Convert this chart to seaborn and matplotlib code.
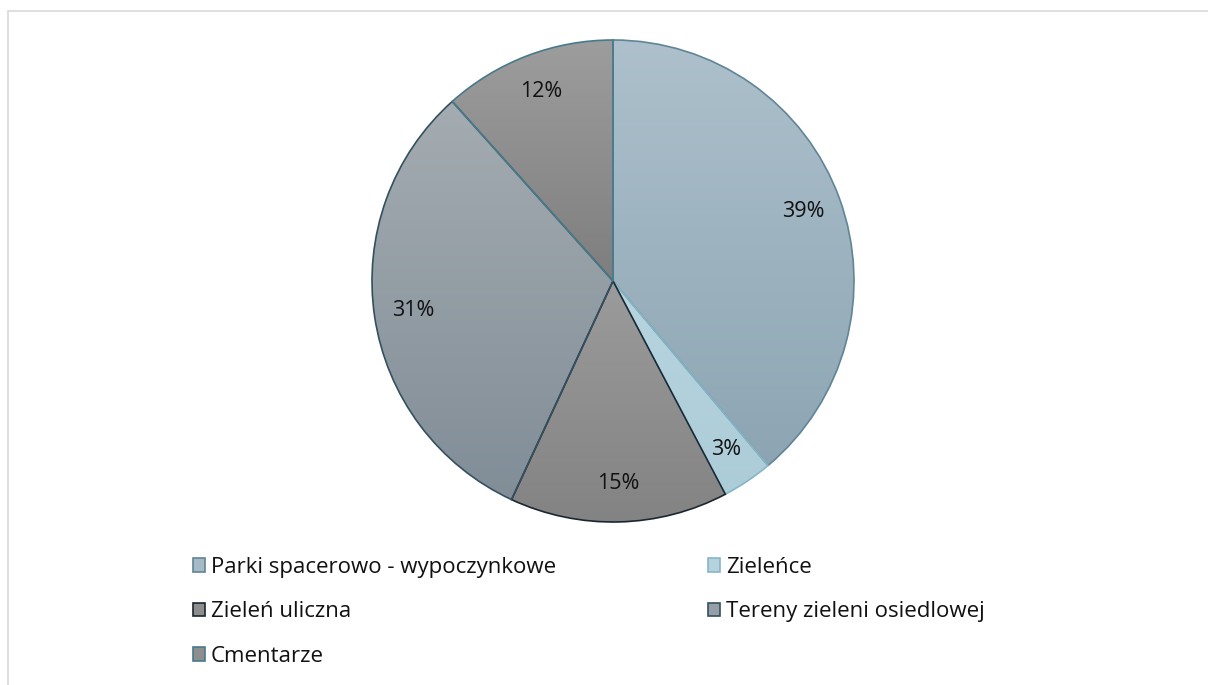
import numpy as np
import matplotlib
matplotlib.use("Agg")
import matplotlib.pyplot as plt
import seaborn as sns
from matplotlib.colors import LinearSegmentedColormap
from matplotlib.patches import Patch
from matplotlib.lines import Line2D

sns.set_theme(style="white")
plt.rcParams["font.family"] = ["Open Sans", "DejaVu Sans"]
plt.rcParams["text.color"] = "#111111"

# Area shares of urban green space categories
categories = ["Parki spacerowo - wypoczynkowe", "Zieleńce", "Zieleń uliczna",
              "Tereny zieleni osiedlowej", "Cmentarze"]
values = [38.8, 3.4, 14.6, 31.4, 11.6]

# top / bottom gradient colours and outline colour for each slice
grad_top = ["#adc0cc", "#b7d5df", "#9b9b9b", "#a4acb1", "#9d9d9d"]
grad_bottom = ["#8da5b3", "#acccd8", "#838383", "#818d97", "#7e7e7e"]
edge_cols = ["#5f8597", "#86b6c6", "#1c2630", "#34505f", "#477a8a"]

W, H = 1208, 685
fig = plt.figure(figsize=(W / 100, H / 100), dpi=100)
fig.patch.set_facecolor("white")

cx, cy, r_px = 613, 281, 241
half = 250
ax = fig.add_axes([(cx - half) / W, (H - cy - half) / H, 2 * half / W, 2 * half / H])
lim = half / r_px

wedges, texts, autotexts = ax.pie(
    values, startangle=90, counterclock=False, radius=1,
    autopct="%.0f%%", pctdistance=0.84,
    wedgeprops=dict(linewidth=1.2),
    textprops=dict(fontsize=15.5, color="#111111"),
)
ax.set_aspect("equal")
ax.axis("off")

grad = np.linspace(0, 1, 256).reshape(-1, 1)
for w, t, b, e in zip(wedges, grad_top, grad_bottom, edge_cols):
    verts = w.get_path().vertices
    x0, x1 = verts[:, 0].min(), verts[:, 0].max()
    y0, y1 = verts[:, 1].min(), verts[:, 1].max()
    cmap = LinearSegmentedColormap.from_list("g", [t, b])
    im = ax.imshow(grad, cmap=cmap, extent=(x0, x1, y0, y1), origin="upper",
                   aspect="auto", zorder=0.5, interpolation="bilinear")
    im.set_clip_path(w)
    w.set_facecolor("none")
    w.set_edgecolor(e)
    w.set_zorder(1)
for t in autotexts:
    t.set_zorder(3)
ax.set_xlim(-lim, lim)
ax.set_ylim(-lim, lim)

# Legend, filled row by row
face_cols = ["#a6b9c6", "#b5d3de", "#8d8d8d", "#949fa7", "#8e8e8e"]
handles = [Patch(facecolor=f, edgecolor=e, linewidth=1.2) for f, e in zip(face_cols, edge_cols)]
order = [0, 2, 4, 1, 3]
leg = fig.legend([handles[i] for i in order], [categories[i] for i in order],
                 ncol=2, loc="upper left", bbox_to_anchor=(193 / W, 1 - 557 / H),
                 frameon=False, fontsize=16, handlelength=0.55, handleheight=0.55,
                 handletextpad=0.25, columnspacing=6.85, labelspacing=1.05,
                 borderaxespad=0, borderpad=0)
for t in leg.get_texts():
    t.set_color("#111111")

# chart-area outline (top and left edges visible)
fig.add_artist(Line2D([8 / W, 1], [1 - 11 / H, 1 - 11 / H], color="#d9d9d9", lw=1.2))
fig.add_artist(Line2D([8 / W, 8 / W], [0, 1 - 11 / H], color="#d9d9d9", lw=1.2))

fig.savefig("out.png", dpi=100, facecolor="white")
